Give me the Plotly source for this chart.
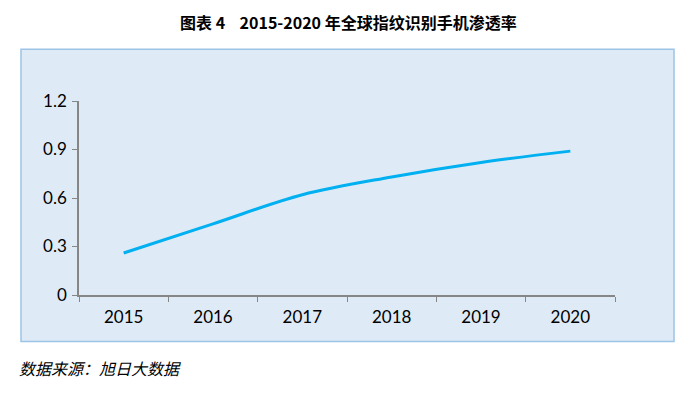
import plotly.graph_objects as go

years = ["2015", "2016", "2017", "2018", "2019", "2020"]
penetration = [0.26, 0.44, 0.62, 0.73, 0.82, 0.89]
y_ticks = [0, 0.3, 0.6, 0.9, 1.2]
y_tick_labels = ["0", "0.3", "0.6", "0.9", "1.2"]

OFF = 8  # page body margin
W, H = 696, 395
L = 79 - OFF
T = 101 - OFF
R = W - (615 - OFF)
B = H - (295.5 - OFF)
pw = W - L - R
ph = H - T - B

def px(x):
    return (x - OFF - L) / pw

def py(y):
    return (H - B - (y - OFF)) / ph

fig = go.Figure()
fig.add_trace(go.Scatter(
    x=years, y=penetration, mode="lines",
    line=dict(color="#00B0F0", width=3, shape="spline", smoothing=1.0),
    hoverinfo="x+y",
))

fig.add_shape(type="rect", xref="paper", yref="paper",
              x0=px(21), x1=px(674), y0=py(342), y1=py(49),
              line=dict(color="#9DC3E6", width=1.5), fillcolor="#DEEAF6", layer="below")

fig.add_annotation(text="<b>图表 4&nbsp;&nbsp;&nbsp;&nbsp;2015-2020 年全球指纹识别手机渗透率</b>",
                   xref="paper", yref="paper", x=px(348), y=py(22),
                   xanchor="center", yanchor="middle", showarrow=False,
                   font=dict(size=16, color="#000000", family="Noto Sans CJK SC"))
fig.add_annotation(text="<i>数据来源：旭日大数据</i>",
                   xref="paper", yref="paper", x=px(17), y=py(369),
                   xanchor="left", yanchor="middle", showarrow=False,
                   font=dict(size=16, color="#000000", family="Noto Sans CJK SC"))

fig.update_layout(
    width=W, height=H,
    margin=dict(l=L, r=R, t=T, b=B),
    paper_bgcolor="white", plot_bgcolor="rgba(0,0,0,0)",
    showlegend=False,
    font=dict(family="Noto Sans CJK SC", size=14, color="#000000"),
)
fig.update_xaxes(
    type="category", tickson="boundaries", ticks="outside", ticklen=5,
    tickcolor="#868686", showline=True, linecolor="#868686", linewidth=1.5,
    showgrid=False, zeroline=False,
    tickfont=dict(size=17, family="Lato", color="#000000"),
    ticklabelstandoff=6,
    range=[-0.5, 5.5],
)
fig.update_yaxes(
    range=[0, 1.2], tickvals=y_ticks, ticktext=y_tick_labels,
    ticks="outside", ticklen=5, tickcolor="#868686",
    showline=True, linecolor="#868686", linewidth=1.5,
    showgrid=False, zeroline=False,
    tickfont=dict(size=17, family="Lato", color="#000000"),
    ticklabelstandoff=2,
)

fig.write_html("out.html")
